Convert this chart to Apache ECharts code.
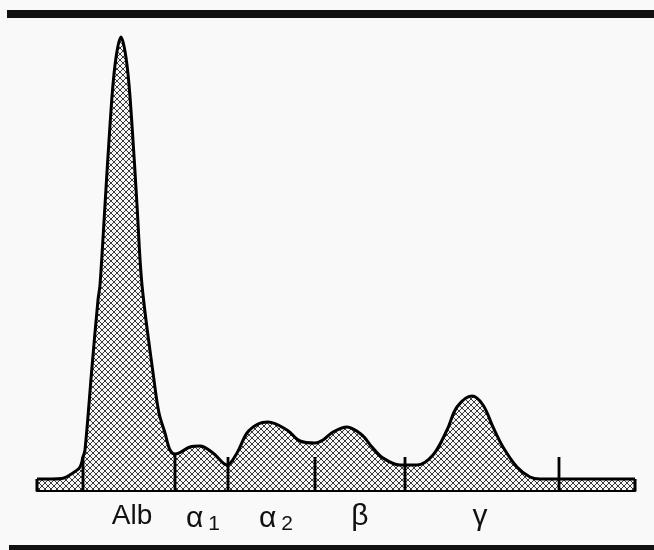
<!DOCTYPE html>
<html><head><meta charset="utf-8">
<script src="https://cdn.jsdelivr.net/npm/echarts@6/dist/echarts.min.js"></script>
<style>html,body{margin:0;padding:0;background:#f9f9f9}#c{width:654px;height:550px}</style>
</head><body><div id="c"></div>
<script>
// Densitometer trace (mobility units, relative density)
const mobility = [0, 15, 25, 36, 43, 46, 48, 55, 61, 63, 68, 73, 78, 84, 90, 95, 100, 105, 117, 122, 128, 133, 138, 153, 163, 176, 190, 200, 210, 221, 231, 250, 263, 278, 286, 296, 310, 325, 335, 346, 363, 380, 396, 410, 420, 435, 446, 456, 466, 480, 493, 503, 540, 598];
const density  = [11, 11, 11.5, 17, 23, 33, 40, 123, 190, 205, 285, 365, 425, 453, 425, 365, 285, 205, 110, 77, 57, 40, 36, 43, 44, 37, 25, 37, 57, 66, 68, 60, 49, 47, 50, 58, 63, 55, 43, 32, 25, 25, 35, 60, 83, 94, 85, 63, 43, 23, 13, 11, 11, 11];
const stripLevel = 11;
const stripEnds = [0, 598];
const boundaryX = [46, 138, 191, 278, 368, 522];
const boundaryTop = [33, 36, 33, 33, 33, 33];
const fractionCenters = [95, 166, 239, 323, 443];
const fractionLabels = ['{n|Alb}', '{g|α}{s|1}', '{g|α}{s|2}', '{g|β}', '{g|γ}'];

function hatch() {
  const c = document.createElement('canvas');
  c.width = c.height = 6;
  const g = c.getContext('2d');
  g.fillStyle = '#f6f6f6'; g.fillRect(0, 0, 6, 6);
  g.strokeStyle = '#3a3a3a'; g.lineWidth = 1;
  g.beginPath();
  g.moveTo(-1, -1); g.lineTo(7, 7);
  g.moveTo(7, -1); g.lineTo(-1, 7);
  g.stroke();
  return c;
}

const chart = echarts.init(document.getElementById('c'), null, {renderer: 'canvas'});
const series = [{
  type: 'line', smooth: 0.35, symbol: 'none', z: 2,
  data: mobility.map((x, i) => [x, density[i]]),
  lineStyle: {color: '#000', width: 3},
  areaStyle: {color: {image: hatch(), repeat: 'repeat'}, opacity: 1, origin: 'start'}
}];
stripEnds.forEach(x => series.push({
  type: 'line', symbol: 'none', z: 3, data: [[x, 0], [x, stripLevel]],
  lineStyle: {color: '#000', width: 3}
}));
boundaryX.forEach((x, i) => series.push({
  type: 'line', symbol: 'none', z: 3, data: [[x, 0], [x, boundaryTop[i]]],
  lineStyle: {color: '#000', width: 2.8}
}));

const txt = {fontFamily: 'Liberation Sans', color: '#111'};
chart.setOption({
  backgroundColor: '#f9f9f9',
  animation: false,
  grid: {left: 37, right: 19, top: 30, bottom: 60},
  xAxis: {
    type: 'value', min: 0, max: 598,
    splitLine: {show: false}, axisTick: {show: false},
    axisLine: {show: true, lineStyle: {color: '#000', width: 3}},
    axisLabel: {
      customValues: fractionCenters, margin: 12,
      formatter: v => fractionLabels[fractionCenters.indexOf(v)] || '',
      rich: {
        n: Object.assign({fontSize: 28}, txt),
        g: Object.assign({fontSize: 30}, txt),
        s: Object.assign({fontSize: 21, padding: [12, 0, 0, 5]}, txt)
      }
    }
  },
  yAxis: {type: 'value', min: 0, max: 460, show: false},
  series: series,
  graphic: [
    {type: 'rect', shape: {x: 7, y: 10, width: 647, height: 8}, style: {fill: '#111'}},
    {type: 'rect', shape: {x: 9, y: 545, width: 645, height: 6}, style: {fill: '#111'}}
  ]
});
</script></body></html>
